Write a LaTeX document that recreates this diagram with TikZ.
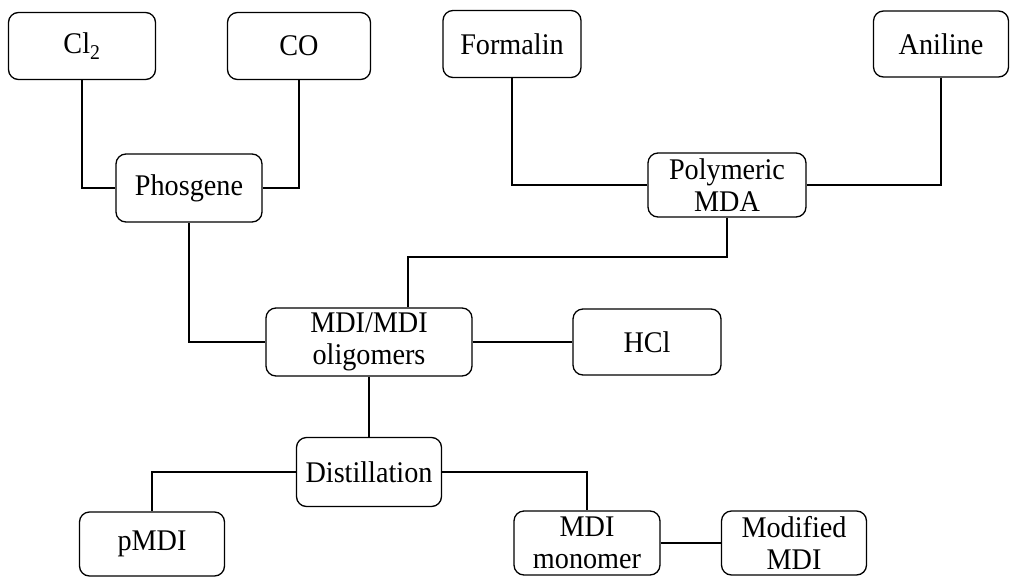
\documentclass[tikz,border=0pt]{standalone}
\usepackage{fontspec}
\setmainfont[FakeStretch=0.94]{Liberation Serif}
\begin{document}
\begin{tikzpicture}[x=1pt,y=-1pt,
  box/.style={draw=black,rounded corners=10pt,line width=1.3pt,align=center,
    inner sep=0pt,font=\fontsize{30}{32.5}\selectfont},
  link/.style={draw=black,line width=1.3pt}]
\useasboundingbox (0,0) rectangle (1014,581);
\node[box,minimum width=147pt,minimum height=67pt] (cl) at (82,46) {Cl\textsubscript{2}};
\node[box,minimum width=143pt,minimum height=67pt] (co) at (299,46) {CO};
\node[box,minimum width=138pt,minimum height=67pt] (form) at (512,44) {Formalin};
\node[box,minimum width=135pt,minimum height=66pt] (anil) at (941,44) {Aniline};
\node[box,minimum width=146pt,minimum height=68pt] (phos) at (189,188) {Phosgene};
\node[box,minimum width=158pt,minimum height=64pt] (pmda) at (727,185) {Polymeric\\MDA};
\node[box,minimum width=206pt,minimum height=68pt] (mdi) at (369,342) {MDI/MDI\\oligomers};
\node[box,minimum width=148pt,minimum height=66pt] (hcl) at (647,342) {HCl};
\node[box,minimum width=145pt,minimum height=69pt] (dist) at (369,472) {Distillation};
\node[box,minimum width=145pt,minimum height=64pt] (pmdi) at (152,544) {pMDI};
\node[box,minimum width=146pt,minimum height=64pt] (mono) at (587,543) {MDI\\monomer};
\node[box,minimum width=145pt,minimum height=64pt] (mod) at (794,543) {Modified\\MDI};
\coordinate (k1) at (408,257);
\draw[link] (cl.south) |- (phos.west);
\draw[link] (co.south) |- (phos.east);
\draw[link] (form.south) |- (pmda.west);
\draw[link] (anil.south) |- (pmda.east);
\draw[link] (phos.south) |- (mdi.west);
\draw[link] (pmda.south) |- (k1) -- (k1 |- mdi.north);
\draw[link] (mdi.east) -- (hcl.west);
\draw[link] (mdi.south) -- (dist.north);
\draw[link] (dist.west) -| (pmdi.north);
\draw[link] (dist.east) -| (mono.north);
\draw[link] (mono.east) -- (mod.west);
\end{tikzpicture}
\end{document}
